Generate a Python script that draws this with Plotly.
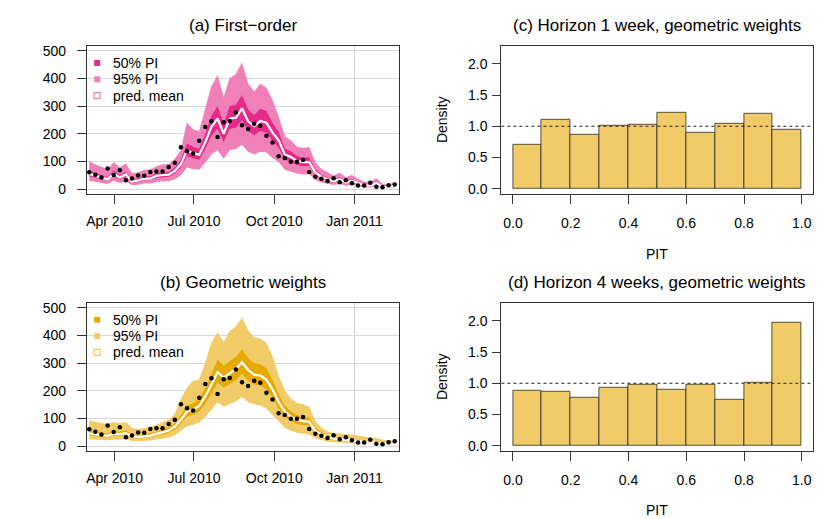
import pandas as pd
import plotly.graph_objects as go
from plotly.subplots import make_subplots

# weekly counts, one point per week
weeks = pd.date_range("2010-03-03", periods=51, freq="7D")

observed = [61, 52, 42, 74, 51, 68, 32, 38, 49, 48, 62, 64, 64, 80, 95, 151, 137, 129, 175, 224,
            245, 188, 242, 246, 277, 231, 217, 236, 229, 193, 168, 119, 112, 99, 99, 105, 62, 45, 37, 29,
            39, 25, 32, 21, 13, 13, 23, 8, 7, 14, 17]

# (a) first-order model
fo_mean = [55, 48, 42, 35, 56, 42, 53, 27, 31, 38, 38, 48, 51, 52, 66, 90, 140, 130, 124, 170,
           225, 255, 200, 255, 258, 292, 245, 228, 246, 240, 204, 176, 125, 116, 102, 97, 98, 60, 44, 36,
           28, 36, 24, 30, 20, 13, 13, 21, 8, 7, 13]
fo_lo95 = [30, 26, 22, 18, 30, 22, 28, 14, 16, 20, 20, 26, 28, 28, 36, 50, 78, 72, 70, 95,
           125, 140, 110, 140, 145, 160, 135, 125, 135, 132, 112, 97, 70, 64, 56, 53, 54, 33, 24, 19,
           15, 19, 12, 16, 10, 6, 6, 11, 3, 3, 6]
fo_lo50 = [46, 40, 35, 29, 47, 35, 44, 22, 26, 32, 32, 40, 43, 44, 56, 77, 120, 111, 106, 146,
           193, 218, 170, 218, 222, 250, 210, 195, 210, 205, 175, 150, 107, 99, 87, 83, 84, 51, 37, 30,
           23, 30, 20, 25, 16, 10, 10, 17, 6, 5, 10]
fo_hi50 = [66, 58, 51, 43, 67, 51, 63, 34, 38, 46, 46, 57, 61, 62, 78, 106, 165, 153, 146, 200,
           265, 300, 236, 300, 305, 340, 288, 268, 290, 282, 240, 207, 147, 137, 120, 114, 115, 71, 52, 43,
           33, 43, 29, 36, 24, 16, 16, 25, 10, 9, 16]
fo_hi95 = [100, 88, 80, 70, 96, 78, 92, 55, 60, 68, 70, 82, 88, 90, 108, 140, 238, 215, 208, 290,
           370, 410, 330, 400, 415, 455, 380, 352, 380, 365, 320, 260, 190, 175, 152, 148, 150, 95, 72, 60,
           48, 58, 42, 50, 36, 26, 26, 38, 18, 16, 24]

# (b) geometric weights model
gw_mean = [46, 44, 40, 37, 45, 43, 47, 35, 33, 35, 38, 44, 50, 56, 70, 95, 125, 132, 145, 180,
           222, 268, 248, 262, 278, 303, 275, 258, 255, 240, 205, 160, 125, 106, 95, 90, 88, 55, 42, 32,
           27, 25, 23, 21, 18, 14, 13, 12, 9, 8, 8]
gw_lo95 = [25, 24, 21, 20, 25, 24, 26, 18, 17, 18, 20, 24, 28, 31, 39, 55, 72, 77, 85, 105,
           130, 158, 142, 152, 162, 177, 158, 150, 147, 135, 112, 86, 66, 55, 48, 45, 42, 28, 21, 16,
           14, 13, 11, 10, 9, 7, 6, 6, 4, 3, 3]
gw_lo50 = [38, 37, 33, 31, 38, 36, 39, 29, 27, 29, 32, 37, 42, 47, 59, 81, 107, 113, 124, 154,
           190, 230, 212, 224, 238, 262, 236, 222, 219, 205, 175, 136, 106, 90, 80, 76, 74, 46, 35, 26,
           22, 21, 19, 17, 15, 11, 10, 10, 7, 6, 6]
gw_hi50 = [55, 53, 48, 45, 54, 52, 56, 43, 40, 43, 46, 53, 60, 67, 83, 112, 147, 155, 170, 210,
           260, 312, 290, 305, 322, 350, 318, 300, 296, 280, 240, 188, 147, 125, 112, 106, 104, 65, 50, 38,
           32, 30, 28, 25, 22, 17, 16, 15, 11, 10, 10]
gw_hi95 = [92, 88, 82, 78, 86, 82, 86, 64, 60, 64, 68, 76, 85, 95, 115, 168, 210, 235, 240, 300,
           372, 410, 375, 415, 432, 462, 418, 392, 388, 372, 322, 252, 200, 170, 155, 150, 140, 90, 65, 52,
           46, 45, 42, 40, 36, 32, 30, 28, 22, 20, 18]

# PIT histograms
pit_breaks = [0.0, 0.1, 0.2, 0.3, 0.4, 0.5, 0.6, 0.7, 0.8, 0.9, 1.0]
pit_h1 = [0.71, 1.11, 0.87, 1.01, 1.02, 1.21, 0.89, 1.04, 1.20, 0.95]
pit_h4 = [0.88, 0.87, 0.76, 0.93, 0.98, 0.89, 0.98, 0.73, 1.00, 1.97]

date_ticks = ["2010-04-01", "2010-07-01", "2010-10-01", "2011-01-01"]
key_labels = ["50% PI", "95% PI", "pred. mean"]

PINK50, PINK95 = "#E7298A", "#EF80B8"
GOLD50, GOLD95 = "#E6AB02", "#F0CB67"
FONT = "Liberation Sans, Arial, sans-serif"
AXCOL = "#333333"
W, H = 830, 519

fig = make_subplots(rows=2, cols=2)


def add_key(colors, top):
    # small R-style legend: filled squares for the intervals, open square for the mean
    for i, (label, col) in enumerate(zip(key_labels, colors)):
        yc = top + 16.5 * i
        open_box = i == 2
        fig.add_shape(type="rect", xref="paper", yref="paper",
                      x0=(96.3 - 3) / W, x1=(96.3 + 3) / W, y0=1 - (yc + 3) / H, y1=1 - (yc - 3) / H,
                      fillcolor="white" if open_box else col,
                      line=dict(color=col, width=1.2 if open_box else 0))
        fig.add_annotation(text=label, x=110.5 / W, y=1 - yc / H, xref="paper", yref="paper",
                           showarrow=False, xanchor="left", yanchor="middle",
                           font=dict(size=14, color="black", family=FONT))


def add_fan(row, col, mean, lo95, lo50, hi50, hi95, c50, c95, key_top):
    fig.add_trace(go.Scatter(x=weeks, y=lo95, mode="lines", line=dict(width=0, color=c95),
                             showlegend=False, hoverinfo="skip"), row=row, col=col)
    fig.add_trace(go.Scatter(x=weeks, y=hi95, mode="lines", line=dict(width=0.6, color=c95),
                             fill="tonexty", fillcolor=c95, showlegend=False), row=row, col=col)
    fig.add_trace(go.Scatter(x=weeks, y=lo50, mode="lines", line=dict(width=0, color=c50),
                             showlegend=False, hoverinfo="skip"), row=row, col=col)
    fig.add_trace(go.Scatter(x=weeks, y=hi50, mode="lines", line=dict(width=0, color=c50),
                             fill="tonexty", fillcolor=c50, showlegend=False), row=row, col=col)
    fig.add_trace(go.Scatter(x=weeks, y=mean, mode="lines", line=dict(width=2.2, color="white"),
                             showlegend=False), row=row, col=col)
    fig.add_trace(go.Scatter(x=weeks, y=observed, mode="markers",
                             marker=dict(size=4.5, color="black"), showlegend=False), row=row, col=col)
    fig.add_shape(type="line", x0="2011-01-01", x1="2011-01-01", y0=0, y1=1,
                  xref="x" if row == 1 else "x3", yref=("y" if row == 1 else "y3") + " domain",
                  line=dict(color="#D6D6D6", width=1.2), layer="below")
    add_key([c50, c95, c95], key_top)


def add_pit(row, col, heights):
    centers = [(a + b) / 2 for a, b in zip(pit_breaks[:-1], pit_breaks[1:])]
    widths = [b - a for a, b in zip(pit_breaks[:-1], pit_breaks[1:])]
    fig.add_trace(go.Bar(x=centers, y=heights, width=widths, showlegend=False,
                         marker=dict(color=GOLD95, line=dict(color="rgba(30,30,30,0.75)", width=1))),
                  row=row, col=col)
    fig.add_hline(y=1, line=dict(color="#222222", width=1.1, dash="dot"), row=row, col=col)


add_fan(1, 1, fo_mean, fo_lo95, fo_lo50, fo_hi50, fo_hi95, PINK50, PINK95, 60.7)
add_fan(2, 1, gw_mean, gw_lo95, gw_lo50, gw_hi50, gw_hi95, GOLD50, GOLD95, 320.5)
add_pit(1, 2, pit_h1)
add_pit(2, 2, pit_h4)

left_dom = [86 / W, 398.3 / W]
right_dom = [501 / W, 813.3 / W]
top_dom = [1 - 193.3 / H, 1 - 43.3 / H]
bot_dom = [1 - 453.3 / H, 1 - 303.3 / H]

axis_common = dict(showline=True, mirror=True, linecolor=AXCOL, linewidth=1.2, ticks="outside",
                   tickcolor=AXCOL, tickwidth=1.1, zeroline=False,
                   tickfont=dict(size=14, color="black", family=FONT))

for xa, dom in [("xaxis", left_dom), ("xaxis3", left_dom)]:
    fig.layout[xa].update(axis_common, domain=dom, type="date",
                          range=["2010-02-28 07:00", "2011-02-20 17:00"],
                          tickvals=date_ticks, tickformat="%b %Y", showgrid=False,
                          ticklen=9, ticklabelstandoff=5)
for ya, dom in [("yaxis", top_dom), ("yaxis3", bot_dom)]:
    fig.layout[ya].update(axis_common, domain=dom, range=[-18, 518],
                          tickvals=[0, 100, 200, 300, 400, 500], showgrid=True,
                          gridcolor="#D9D9D9", gridwidth=1.1, ticklen=9, ticklabelstandoff=8)
for xa, dom in [("xaxis2", right_dom), ("xaxis4", right_dom)]:
    fig.layout[xa].update(axis_common, domain=dom, range=[-0.04, 1.04],
                          tickvals=[0, 0.2, 0.4, 0.6, 0.8, 1.0], tickformat=".1f",
                          showgrid=False, ticklen=9, ticklabelstandoff=7)
for ya, dom in [("yaxis2", top_dom), ("yaxis4", bot_dom)]:
    fig.layout[ya].update(axis_common, domain=dom, range=[-0.085, 2.288],
                          tickvals=[0, 0.5, 1.0, 1.5, 2.0], tickformat=".1f",
                          showgrid=False, ticklen=8, ticklabelstandoff=2)

titles = [("(a) First\u2212order", 242, 23), ("(c) Horizon 1 week, geometric weights", 657, 23),
          ("(b) Geometric weights", 242, 283), ("(d) Horizon 4 weeks, geometric weights", 657, 283)]
for text, xc, yc in titles:
    fig.add_annotation(text=text, x=xc / W, y=1 - yc / H, xref="paper", yref="paper",
                       showarrow=False, xanchor="center", yanchor="middle",
                       font=dict(size=17, color="black", family=FONT))
for yc in [118.3, 378.3]:
    fig.add_annotation(text="Density", x=441.7 / W, y=1 - yc / H, xref="paper", yref="paper",
                       showarrow=False, textangle=-90, xanchor="center", yanchor="middle",
                       font=dict(size=14, color="black", family=FONT))
for yc in [253.5, 513]:
    fig.add_annotation(text="PIT", x=657 / W, y=1 - yc / H, xref="paper", yref="paper",
                       showarrow=False, xanchor="center", yanchor="middle",
                       font=dict(size=14, color="black", family=FONT))

fig.update_layout(
    width=W, height=H,
    margin=dict(l=0, r=0, t=0, b=0),
    plot_bgcolor="white", paper_bgcolor="white",
    font=dict(family=FONT, color="black"),
    showlegend=False,
    bargap=0,
)

# the page body has a default margin; drop it so the figure sits at the window corner
fig.write_html("out.html", config={"displayModeBar": False},
               post_script="document.body.style.margin='0px';"
                           "document.body.style.overflow='hidden';")
